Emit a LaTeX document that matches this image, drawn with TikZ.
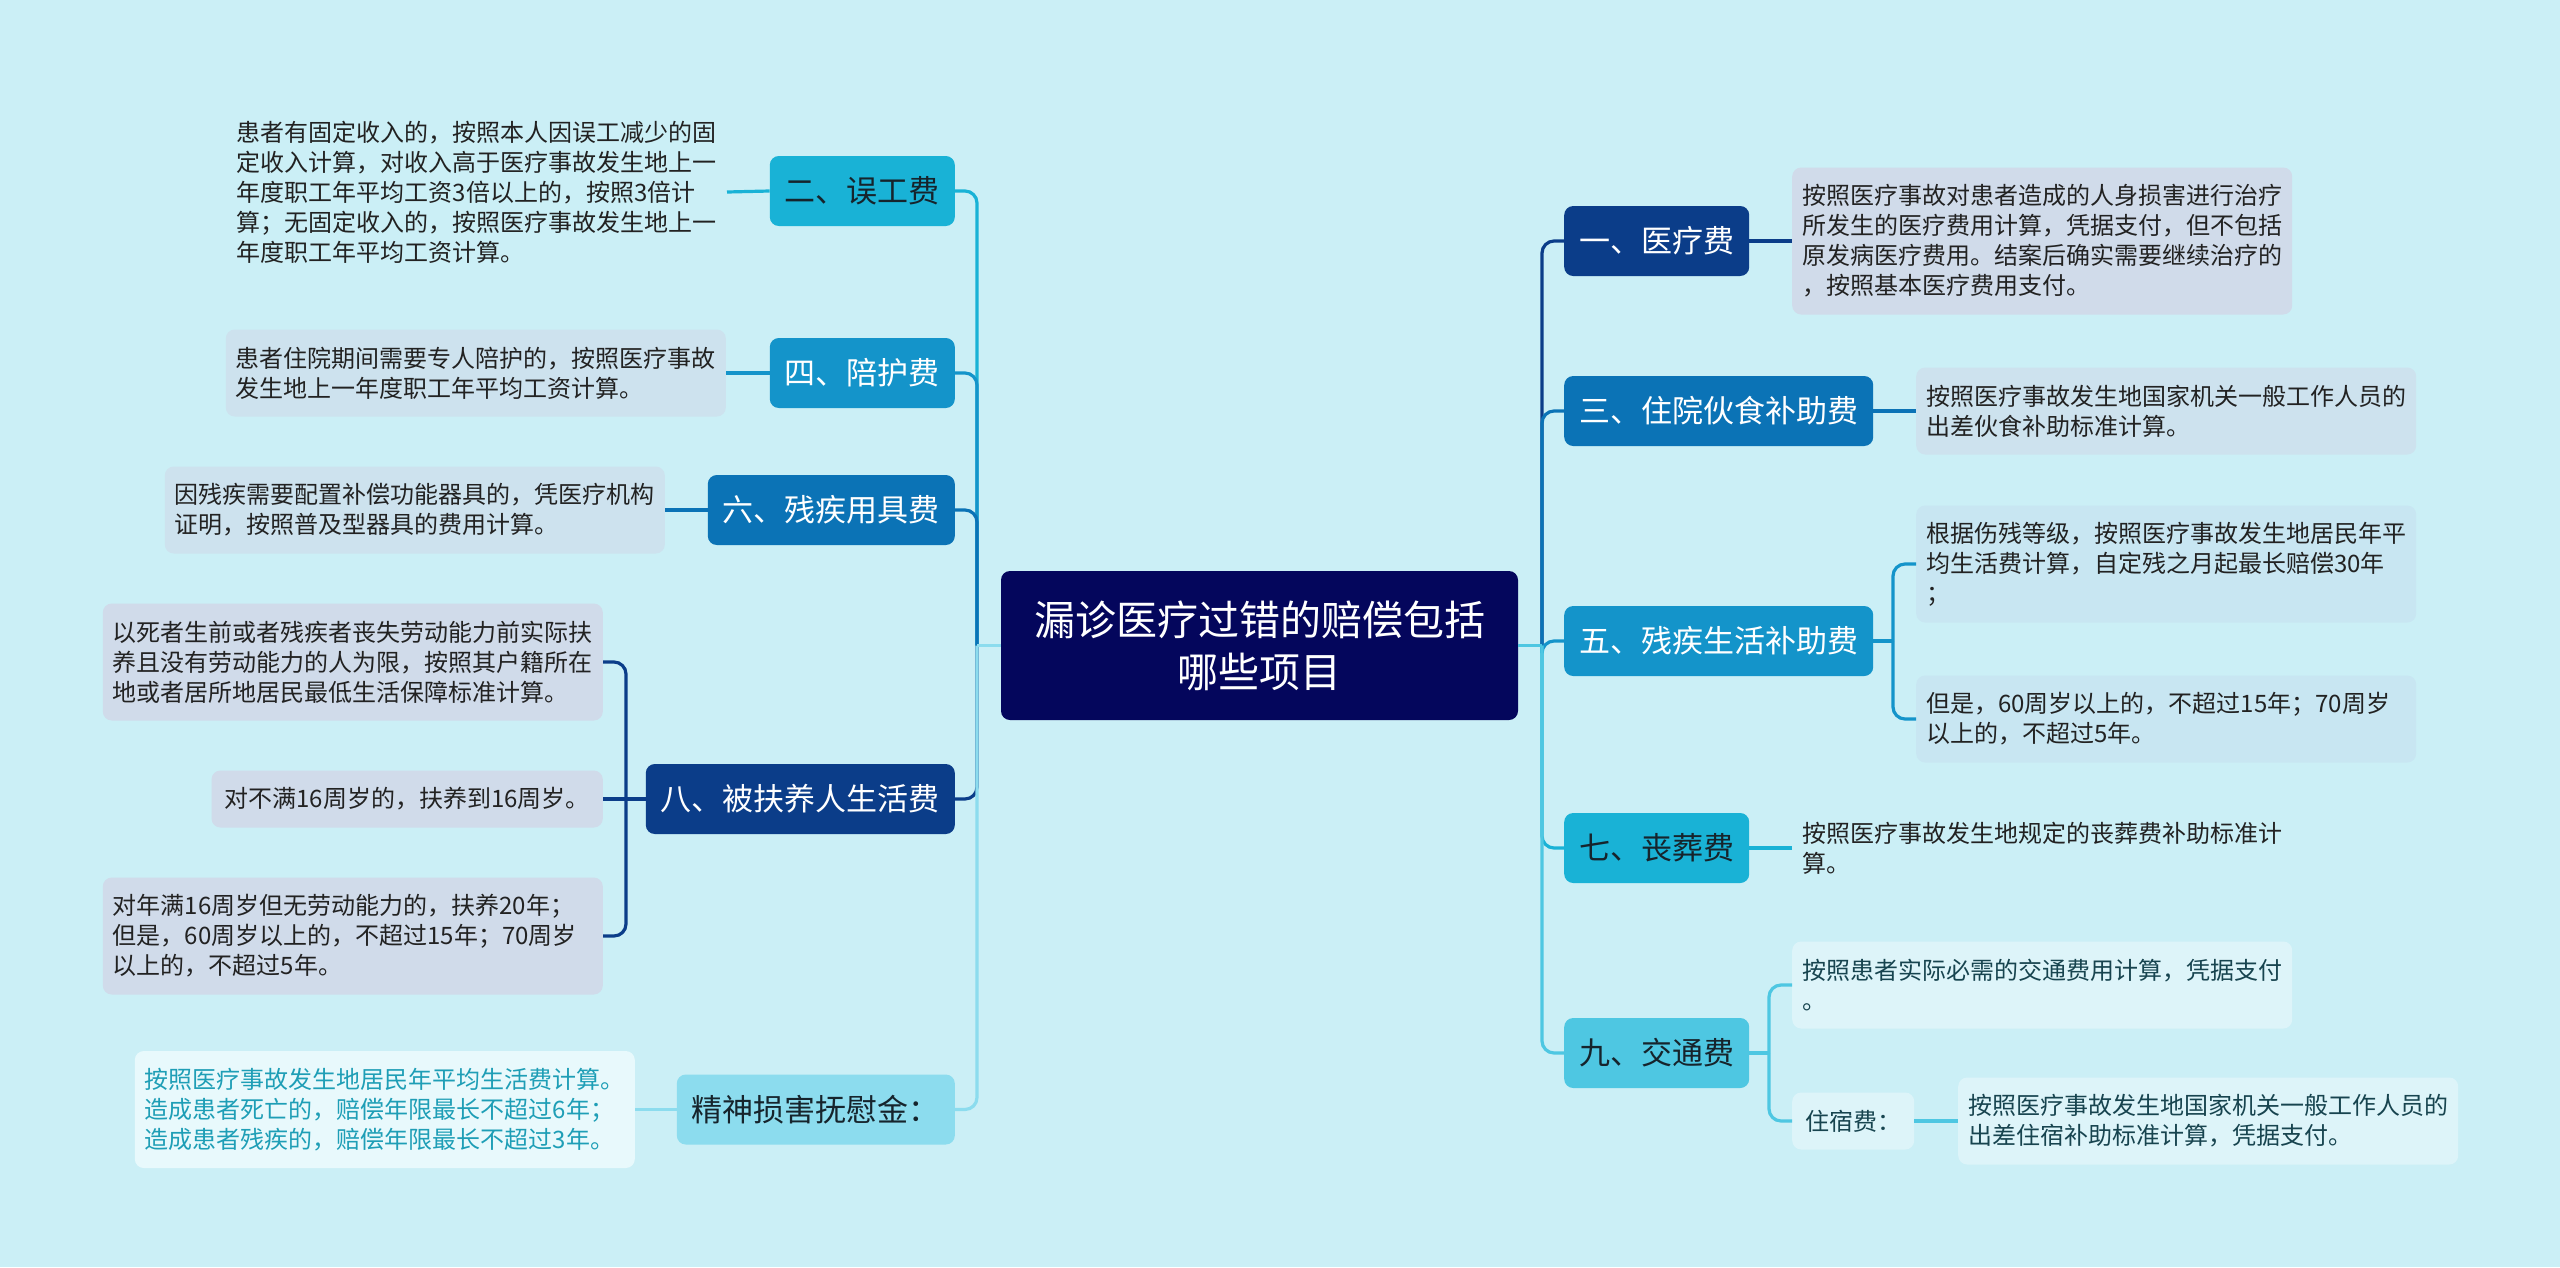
\documentclass[tikz,border=0pt]{standalone}
\usepackage{fontspec}
\setmainfont{Noto Sans CJK SC}
\usepackage{xcolor}
\usepackage{tikz}
\usetikzlibrary{positioning}
\definecolor{bgcyan}{HTML}{CBEFF6}
\definecolor{rootnavy}{HTML}{04065C}
\definecolor{deepblue}{HTML}{0B3D89}
\definecolor{midblue}{HTML}{0B73B6}
\definecolor{seablue}{HTML}{1494CA}
\definecolor{skyblue}{HTML}{19B2D6}
\definecolor{paleblue}{HTML}{4EC7E2}
\definecolor{mistblue}{HTML}{8CDCEE}
\definecolor{darktext}{HTML}{16242C}
\definecolor{leafgray}{HTML}{D0DBEA}
\definecolor{leafblue}{HTML}{CDE2EE}
\definecolor{leafsea}{HTML}{C8E6F2}
\definecolor{leafpale}{HTML}{DDF4F9}
\definecolor{leafmist}{HTML}{E8F9FC}
\definecolor{leaftext}{HTML}{222222}
\definecolor{tealtext}{HTML}{1E9EB6}
\definecolor{deeptealtext}{HTML}{17444F}

\begin{document}
\begin{tikzpicture}[x=1pt,y=-1pt,
  box/.style={rounded corners=9pt, inner sep=0pt},
  root/.style={box, fill=rootnavy, text=white, font=\fontsize{41}{52}\selectfont,
    align=center, minimum width=517pt, minimum height=149pt},
  branch/.style={box, inner xsep=15pt, minimum height=70pt, font=\fontsize{31}{36}\selectfont},
  leaf/.style={box, inner xsep=10pt, text width=480pt, align=left,
    font=\fontsize{24}{30}\selectfont, text=leaftext},
  shortleaf/.style={box, inner xsep=13pt, align=left,
    font=\fontsize{24}{30}\selectfont, text=leaftext},
  nlines/.style={minimum height={#1*30pt+27pt}},
  link/.style={line width=3.2pt},
  elbow/.style={link, rounded corners=12pt}]

  % background
  \fill[bgcyan] (0,0) rectangle (2560,1267);

  % ---- CENTRE ----
  \node[root] (root) at (1259.5,645.5) {漏诊医疗过错的赔偿包括\\哪些项目};
  \coordinate (lt) at (977,645.5);
  \coordinate (rt) at (1542,645.5);

  % ---- LEFT: branches ----
  \node[branch, anchor=east, fill=skyblue, text=darktext] (wugong) at (955,191) {二、误工费};
  \node[branch, anchor=east, fill=seablue, text=white] (peihu) at (955,373) {四、陪护费};
  \node[branch, anchor=east, fill=midblue, text=white] (yongju) at (955,510) {六、残疾用具费};
  \node[branch, anchor=east, fill=deepblue, text=white] (fuyang) at (955,799) {八、被扶养人生活费};
  \node[branch, anchor=east, fill=mistblue, text=darktext] (jingshen) at (955,1109.5) {精神损害抚慰金：};

  % left leaves
  \node[leaf, nlines=5, anchor=east] (wugongA) at (727,192) {患者有固定收入的，按照本人因误工减少的固\\定收入计算，对收入高于医疗事故发生地上一\\年度职工年平均工资3倍以上的，按照3倍计\\算；无固定收入的，按照医疗事故发生地上一\\年度职工年平均工资计算。};
  \node[leaf, nlines=2, anchor=east, fill=leafblue] (peihuA) at (726,373) {患者住院期间需要专人陪护的，按照医疗事故\\发生地上一年度职工年平均工资计算。};
  \node[leaf, nlines=2, anchor=east, fill=leafblue] (yongjuA) at (665,510) {因残疾需要配置补偿功能器具的，凭医疗机构\\证明，按照普及型器具的费用计算。};
  \node[leaf, nlines=3, anchor=east, fill=leafgray] (fuyangA) at (603,662) {以死者生前或者残疾者丧失劳动能力前实际扶\\养且没有劳动能力的人为限，按照其户籍所在\\地或者居所地居民最低生活保障标准计算。};
  \node[shortleaf, nlines=1, anchor=east, fill=leafgray] (fuyangB) at (603,799) {对不满16周岁的，扶养到16周岁。};
  \node[leaf, nlines=3, anchor=east, fill=leafgray] (fuyangC) at (603,936) {对年满16周岁但无劳动能力的，扶养20年；\\但是，60周岁以上的，不超过15年；70周岁\\以上的，不超过5年。};
  \node[leaf, nlines=3, anchor=east, fill=leafmist, text=tealtext] (jingshenA) at (635,1109.5) {按照医疗事故发生地居民年平均生活费计算。\\造成患者死亡的，赔偿年限最长不超过6年；\\造成患者残疾的，赔偿年限最长不超过3年。};

  % ---- RIGHT: branches ----
  \node[branch, anchor=west, fill=deepblue, text=white] (yiliao) at (1564,241) {一、医疗费};
  \node[branch, anchor=west, fill=midblue, text=white] (huoshi) at (1564,411) {三、住院伙食补助费};
  \node[branch, anchor=west, fill=seablue, text=white] (shenghuo) at (1564,641) {五、残疾生活补助费};
  \node[branch, anchor=west, fill=skyblue, text=darktext] (sangzang) at (1564,848) {七、丧葬费};
  \node[branch, anchor=west, fill=paleblue, text=darktext] (jiaotong) at (1564,1053) {九、交通费};

  % right leaves
  \node[leaf, nlines=4, anchor=west, fill=leafgray] (yiliaoA) at (1792,241) {按照医疗事故对患者造成的人身损害进行治疗\\所发生的医疗费用计算，凭据支付，但不包括\\原发病医疗费用。结案后确实需要继续治疗的\\，按照基本医疗费用支付。};
  \node[leaf, nlines=2, anchor=west, fill=leafblue] (huoshiA) at (1916,411) {按照医疗事故发生地国家机关一般工作人员的\\出差伙食补助标准计算。};
  \node[leaf, nlines=3, anchor=west, fill=leafsea] (shenghuoA) at (1916,564) {根据伤残等级，按照医疗事故发生地居民年平\\均生活费计算，自定残之月起最长赔偿30年\\；};
  \node[leaf, nlines=2, anchor=west, fill=leafsea] (shenghuoB) at (1916,719) {但是，60周岁以上的，不超过15年；70周岁\\以上的，不超过5年。};
  \node[leaf, nlines=2, anchor=west] (sangzangA) at (1792,848) {按照医疗事故发生地规定的丧葬费补助标准计\\算。};
  \node[leaf, nlines=2, anchor=west, fill=leafpale, text=deeptealtext] (jiaotongA) at (1792,985) {按照患者实际必需的交通费用计算，凭据支付\\。};
  \node[shortleaf, nlines=1, anchor=west, fill=leafpale, text=deeptealtext] (jiaotongB) at (1792,1121) {住宿费：};
  \node[leaf, nlines=2, anchor=west, fill=leafpale, text=deeptealtext] (zhusu) at (1958,1121) {按照医疗事故发生地国家机关一般工作人员的\\出差住宿补助标准计算，凭据支付。};

  % ---- connectors, left trunk ----
  \draw[elbow, skyblue] (lt) |- (wugong.east);
  \draw[elbow, seablue] (lt) |- (peihu.east);
  \draw[elbow, midblue] (lt) |- (yongju.east);
  \draw[elbow, deepblue] (lt) |- (fuyang.east);
  \draw[elbow, mistblue] (lt) |- (jingshen.east);
  \draw[link, mistblue] (root.west) -- (lt);

  % ---- connectors, right trunk ----
  \draw[elbow, deepblue] (rt) |- (yiliao.west);
  \draw[elbow, midblue] (rt) |- (huoshi.west);
  \draw[elbow, seablue] (rt) |- (shenghuo.west);
  \draw[elbow, skyblue] (rt) |- (sangzang.west);
  \draw[elbow, paleblue] (rt) |- (jiaotong.west);
  \draw[link, paleblue] (root.east) -- (rt);

  % branch to leaf
  \draw[link, skyblue] (wugong.west) -- (wugongA.east);
  \draw[link, seablue] (peihu.west) -- (peihuA.east);
  \draw[link, midblue] (yongju.west) -- (yongjuA.east);
  \draw[link, mistblue] (jingshen.west) -- (jingshenA.east);
  \draw[link, deepblue] (yiliao.east) -- (yiliaoA.west);
  \draw[link, midblue] (huoshi.east) -- (huoshiA.west);
  \draw[link, skyblue] (sangzang.east) -- (sangzangA.west);

  % brackets
  \coordinate (fj) at (626,799);
  \draw[link, deepblue] (fuyang.west) -- (fj);
  \draw[elbow, deepblue] (fj) |- (fuyangA.east);
  \draw[elbow, deepblue] (fj) |- (fuyangC.east);
  \draw[link, deepblue] (fj) -- (fuyangB.east);

  \coordinate (sj) at (1893,641);
  \draw[link, seablue] (shenghuo.east) -- (sj);
  \draw[elbow, seablue] (sj) |- (shenghuoA.west);
  \draw[elbow, seablue] (sj) |- (shenghuoB.west);

  \coordinate (jj) at (1769,1053);
  \draw[link, paleblue] (jiaotong.east) -- (jj);
  \draw[elbow, paleblue] (jj) |- (jiaotongA.west);
  \draw[elbow, paleblue] (jj) |- (jiaotongB.west);
  \draw[link, paleblue] (jiaotongB.east) -- (zhusu.west);
\end{tikzpicture}
\end{document}
